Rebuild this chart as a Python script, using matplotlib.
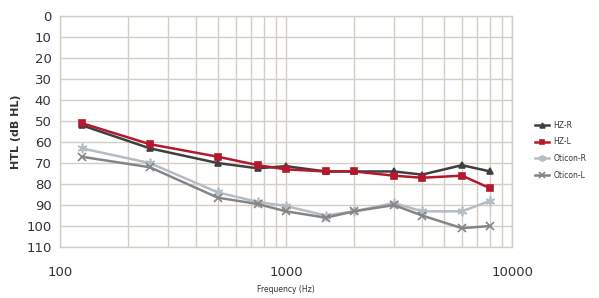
import matplotlib
matplotlib.use("Agg")
from matplotlib import pyplot as plt
from matplotlib.ticker import FixedLocator, NullFormatter

freqs = [125, 250, 500, 750, 1000, 1500, 2000, 3000, 4000, 6000, 8000]
hz_r = [52, 63, 70, 72.5, 71.5, 74, 74, 74, 75.5, 71, 74]
hz_l = [51, 61, 67, 71, 73, 74, 74, 76, 77, 76, 82]
oticon_r = [63, 70, 84, 88.5, 90.5, 95, 93, 89, 93, 93, 88]
oticon_l = [67, 72, 86.5, 89.5, 93, 96, 93, 90, 95, 101, 100]

series = [
    ("HZ-R", hz_r, "#3f3f3f", "^", 5),
    ("HZ-L", hz_l, "#b3192d", "s", 5),
    ("Oticon-R", oticon_r, "#b4bcc4", (6, 2, 0), 7),
    ("Oticon-L", oticon_l, "#858585", "x", 6),
]

fig = plt.figure(figsize=(5.99, 2.98), dpi=100)
ax = fig.add_axes([0.1, 0.171, 0.755, 0.775])

grid_c = "#d3cfc3"
for name, vals, col, mk, ms in series:
    ax.plot(freqs, vals, color=col, marker=mk, markersize=ms, linewidth=1.8,
            markeredgewidth=1.2, label=name, zorder=3)

ax.set_xscale("log")
ax.set_xlim(100, 10000)
ax.set_ylim(110, 0)
ax.set_yticks(range(0, 111, 10))
ax.xaxis.set_major_locator(FixedLocator([100, 1000, 10000]))
ax.set_xticklabels(["100", "1000", "10000"])
ax.xaxis.set_minor_locator(FixedLocator([m * d for d in (100, 1000) for m in range(2, 10)]))
ax.xaxis.set_minor_formatter(NullFormatter())
ax.grid(True, which="both", color=grid_c, linewidth=1)
ax.set_axisbelow(True)
for s in ax.spines.values():
    s.set_color(grid_c)
    s.set_linewidth(1)
ax.tick_params(which="both", length=0, colors="#333333", labelsize=9.5)
ax.tick_params(axis="x", pad=14)
ax.tick_params(axis="y", pad=6)

ax.set_xlabel("Frequency (Hz)", fontsize=5.5, color="#333333", labelpad=4)
ax.set_ylabel("HTL (dB HL)", fontsize=8, fontweight="bold", color="#333333", labelpad=4)

leg = ax.legend(loc="center left", bbox_to_anchor=(1.035, 0.42), frameon=False,
                fontsize=5.5, handlelength=1.8, handletextpad=0.6,
                labelspacing=1.0, markerscale=0.7)
for t in leg.get_texts():
    t.set_color("#333333")

fig.savefig("out.png", dpi=100, facecolor="white")
